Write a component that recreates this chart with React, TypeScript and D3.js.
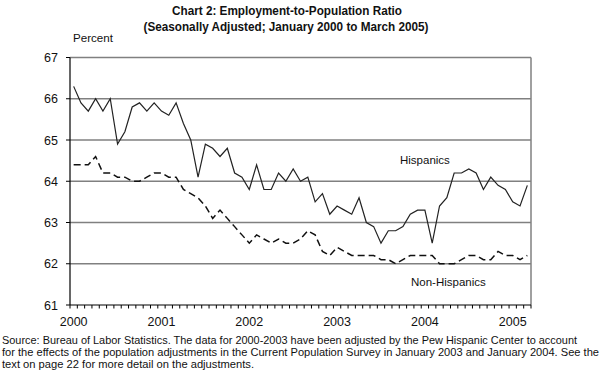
import React from "react";
import * as d3 from "d3";

const hispanic = [
  66.3, 65.9, 65.7, 66.0, 65.7, 66.0, 64.9, 65.2, 65.8, 65.9, 65.7, 65.9,
  65.7, 65.6, 65.9, 65.4, 65.0, 64.1, 64.9, 64.8, 64.6, 64.8, 64.2, 64.1,
  63.8, 64.4, 63.8, 63.8, 64.2, 64.0, 64.3, 64.0, 64.1, 63.5, 63.7, 63.2,
  63.4, 63.3, 63.2, 63.6, 63.0, 62.9, 62.5, 62.8, 62.8, 62.9, 63.2, 63.3,
  63.3, 62.5, 63.4, 63.6, 64.2, 64.2, 64.3, 64.2, 63.8, 64.1, 63.9, 63.8,
  63.5, 63.4, 63.9,
];

const nonHispanic = [
  64.4, 64.4, 64.4, 64.6, 64.2, 64.2, 64.1, 64.1, 64.0, 64.0, 64.1, 64.2,
  64.2, 64.1, 64.1, 63.8, 63.7, 63.6, 63.4, 63.1, 63.3, 63.1, 62.9, 62.7,
  62.5, 62.7, 62.6, 62.5, 62.6, 62.5, 62.5, 62.6, 62.8, 62.7, 62.3, 62.2,
  62.4, 62.3, 62.2, 62.2, 62.2, 62.2, 62.1, 62.1, 62.0, 62.1, 62.2, 62.2,
  62.2, 62.2, 62.0, 62.0, 62.0, 62.1, 62.2, 62.2, 62.1, 62.1, 62.3, 62.2,
  62.2, 62.1, 62.2,
];

const yearLabels = ["2000", "2001", "2002", "2003", "2004", "2005"];
const yTicks = [61, 62, 63, 64, 65, 66, 67];

const titleLines = [
  "Chart 2: Employment-to-Population Ratio",
  "(Seasonally Adjusted; January 2000 to March 2005)",
];
const sourceLines = [
  "Source: Bureau of Labor Statistics. The data for 2000-2003 have been adjusted by the Pew Hispanic Center to account",
  "for the effects of the population adjustments in the Current Population Survey in January 2003 and January 2004. See the",
  "text on page 22 for more detail on the adjustments.",
];
const sourceWidths = [575, 597, 252];

const FONT = "'Liberation Sans', Arial, Helvetica, sans-serif";

export default function App() {
  const W = 600;
  const H = 379;
  const left = 70;
  const right = 531;
  const top = 57.5;
  const bottom = 305;

  const idx = hispanic.map((_, i) => i);
  const x = d3.scalePoint<number>().domain(idx).range([left, right]).padding(0.5);
  const step = x.step();
  const y = d3.scaleLinear().domain([61, 67]).range([bottom, top]);

  const line = d3
    .line<number>()
    .x((_, i) => x(i) as number)
    .y((d) => y(d));

  const boundaries = d3.range(hispanic.length + 1).map((k) => left + k * step);

  return (
    <svg
      width={W}
      height={H}
      style={{ position: "absolute", left: 0, top: 0, background: "#fff" }}
      fontFamily={FONT}
    >
      <rect x={0} y={0} width={W} height={H} fill="#fff" />
      {/* title */}
      <text x={287} y={15} textAnchor="middle" fontSize={12.5} fontWeight="bold" fill="#111"
        textLength={230} lengthAdjust="spacingAndGlyphs">{titleLines[0]}</text>
      <text x={286} y={31} textAnchor="middle" fontSize={12.5} fontWeight="bold" fill="#111"
        textLength={285} lengthAdjust="spacingAndGlyphs">{titleLines[1]}</text>
      <text x={73} y={42} fontSize={11.5} fill="#111" textLength={40} lengthAdjust="spacingAndGlyphs">Percent</text>

      {/* gridlines */}
      {yTicks.filter((t) => t > 61).map((t) => (
        <line key={t} x1={left} x2={right} y1={y(t)} y2={y(t)} stroke="#808080" strokeWidth={1.5} />
      ))}
      {/* right border */}
      <line x1={right} x2={right} y1={top} y2={bottom} stroke="#808080" strokeWidth={1.5} />

      {/* y axis */}
      <line x1={left} x2={left} y1={top} y2={bottom} stroke="#000" strokeWidth={1.2} />
      {yTicks.map((t) => (
        <g key={t}>
          <line x1={left - 4} x2={left} y1={y(t)} y2={y(t)} stroke="#000" strokeWidth={1} />
          <text x={58} y={y(t) + 4.5} textAnchor="end" fontSize={12.5} fill="#111">{t}</text>
        </g>
      ))}

      {/* x axis */}
      <line x1={left} x2={right} y1={bottom} y2={bottom} stroke="#000" strokeWidth={1.2} />
      {boundaries.map((bx, k) => (
        <line key={k} x1={bx} x2={bx} y1={bottom} y2={bottom + 3.5} stroke="#000" strokeWidth={1} />
      ))}
      {yearLabels.map((lab, j) => (
        <text key={lab} x={x(j * 12) as number} y={326} textAnchor="middle" fontSize={12.5} fill="#111">{lab}</text>
      ))}

      {/* series */}
      <path d={line(nonHispanic) || ""} fill="none" stroke="#111" strokeWidth={1.5} strokeDasharray="7,4" />
      <path d={line(hispanic) || ""} fill="none" stroke="#222" strokeWidth={1.2} />

      <text x={400} y={164} fontSize={11.5} fill="#111">Hispanics</text>
      <text x={411} y={286} fontSize={11.5} fill="#111">Non-Hispanics</text>

      {/* source */}
      {sourceLines.map((s, i) => (
        <text key={i} x={2} y={344 + i * 12} fontSize={10.5} fill="#111"
          textLength={sourceWidths[i]}
          lengthAdjust="spacingAndGlyphs">{s}</text>
      ))}
    </svg>
  );
}
